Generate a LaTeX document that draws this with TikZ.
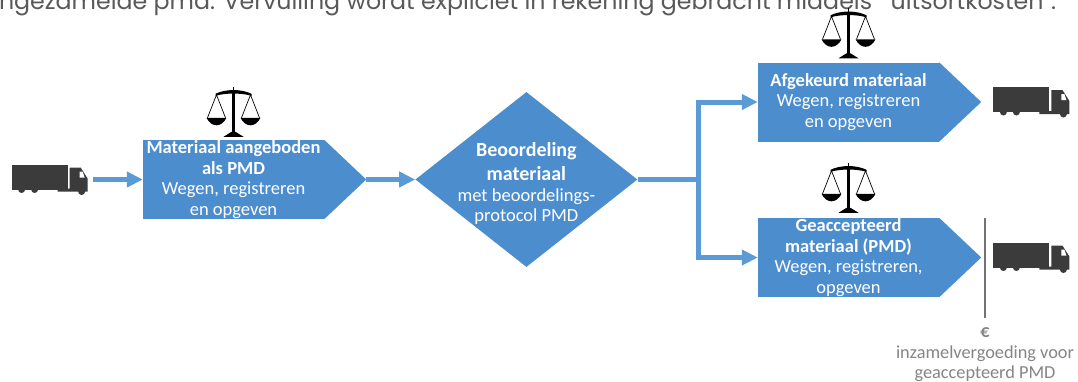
\documentclass[tikz,border=0pt]{standalone}
\usepackage{fontspec}
\setmainfont{Carlito}
\newfontfamily\introfont{Poppins}
\usetikzlibrary{positioning, arrows.meta, shapes.geometric}
\definecolor{pmdblue}{HTML}{4C8DCE}
\definecolor{flowblue}{HTML}{5B9BD5}
\definecolor{truckgrey}{HTML}{3B3B3B}
\newcommand{\judgehead}[1]{{\fontsize{20}{20}\selectfont\textbf{#1}}}
\tikzset{
  x=1pt,
  y=-1pt,
  node distance=50pt,
  flow/.style={draw=flowblue, line width=5pt, -{Triangle[length=16pt,width=15pt]}},
  trunk/.style={draw=flowblue, line width=5pt},
  procbox/.style={fill=pmdblue, text=white, align=center, inner sep=0pt,
    minimum width=181pt, minimum height=79pt, font=\fontsize{18.5}{20.4}\selectfont},
  judgebox/.style={diamond, fill=pmdblue, inner sep=0pt, aspect=1.27,
    minimum width=222pt, minimum height=175pt},
  judgetext/.style={text=white, align=center, inner sep=0pt, font=\fontsize{18.5}{20.4}\selectfont},
  truckslot/.style={inner sep=0pt, minimum width=76pt, minimum height=29pt},
  truck/.pic={
    \fill[truckgrey] (-38,-15) rectangle (18,10);
    \fill[truckgrey] (-28,10) circle (3.5) (-15,10) circle (3.5);
    \fill[truckgrey] (20,-12) -- (31,-12) -- (38,-1) -- (38,12) -- (8,12) -- (8,9) -- (20,9) -- cycle;
    \fill[truckgrey] (32,12) circle (3.5);
    \fill[white] (30,-8) -- (33,-8) -- (35,-2) -- (30,-2) -- cycle;
  },
  balance/.pic={
    \draw[black, line width=2.6pt] (0,-1) -- (0,-44);
    \draw[black, line width=1pt] (0,-44) -- (0,-50);
    \fill[black] (-10,0) -- (10,0) -- (2,-5) -- (-2,-5) -- cycle;
    \fill[black] (-18,-43) .. controls (-8,-48) and (8,-48) .. (18,-43) -- (18,-41) .. controls (8,-44) and (-8,-44) .. (-18,-41) -- cycle;
    \draw[black, line width=.7pt] (-17,-42) -- (-26,-19) (-17,-42) -- (-8,-19);
    \draw[black, line width=.7pt] (17,-42) -- (8,-19) (17,-42) -- (26,-19);
    \fill[black] (-27,-19) .. controls (-22,-9) and (-12,-9) .. (-7,-19) -- cycle;
    \fill[black] (7,-19) .. controls (12,-9) and (22,-9) .. (27,-19) -- cycle;
  },
}

\begin{document}
\begin{tikzpicture}
      \useasboundingbox (0,0) rectangle (1078,381);
      \clip (0,0) rectangle (1078,381);
      \fill[white] (0,0) rectangle (1078,381);

      \node[anchor=base west, inner sep=0pt, text=black!65, font=\introfont\fontsize{23.7}{26}\selectfont] (intro) at (-7,9)
        {ingezamelde pmd. Vervuiling wordt expliciet in rekening gebracht middels ``uitsortkosten''.};

      \node[procbox]                (aanbod) at (233.5,179.5) {\textbf{Materiaal aangeboden}\\\textbf{als PMD}\\Wegen, registreren\\en opgeven};
      \node[judgebox,right=91pt of aanbod] (oordeel) {};
      \node[judgetext]              (oordeeltext) at ([yshift=-4pt]oordeel) {\judgehead{Beoordeling}\\[4pt]\judgehead{materiaal}\\met beoordelings-\\protocol PMD};
      \node[procbox]                (afgekeurd) at (848.5,102) {\textbf{Afgekeurd materiaal}\\Wegen, registreren\\en opgeven};
      \node[procbox]                (geaccept) at (848.5,257.5) {\textbf{Geaccepteerd}\\\textbf{materiaal (PMD)}\\Wegen, registreren,\\opgeven};

      \foreach \proc in {aanbod,afgekeurd,geaccept} {
        \fill[pmdblue] (\proc.north east) -- ([xshift=42pt]\proc.east) coordinate (\proc tip) -- (\proc.south east) -- cycle;
      }

      \node[truckslot,left=55pt of aanbod]     (truckin) {};
      \node[truckslot,right=54pt of afgekeurd] (truckaf) {};
      \node[truckslot,right=54pt of geaccept]  (truckok) {};
      \foreach \slot in {truckin,truckaf,truckok} {
        \pic at (\slot) {truck};
      }
      \pic at ([yshift=3pt]aanbod.north)    {balance};
      \pic at ([yshift=4pt]afgekeurd.north) {balance};
      \pic at ([yshift=5pt]geaccept.north)  {balance};

      \coordinate (split) at (698,179.5);
      \coordinate (railtop) at (985,218);
      \coordinate (railend) at (985,318);

      \draw[flow,shorten <=5pt] (truckin.east) -- (aanbod.west);
      \draw[flow] (aanbodtip) -- (oordeel.west);
      \draw[trunk] (oordeel.east) -- (split);
      \draw[flow] (split) |- (afgekeurd.west);
      \draw[flow] (split) |- (geaccept.west);
      \draw[black!55, line width=1.3pt] (railtop) -- (railend);

      \node[below=9.5pt of railend, inner sep=0pt, text=black!48, align=center, font=\fontsize{18.3}{20.4}\selectfont] (vergoeding)
        {\textbf{€}\\inzamelvergoeding voor\\geaccepteerd PMD};
    \end{tikzpicture}
\end{document}
